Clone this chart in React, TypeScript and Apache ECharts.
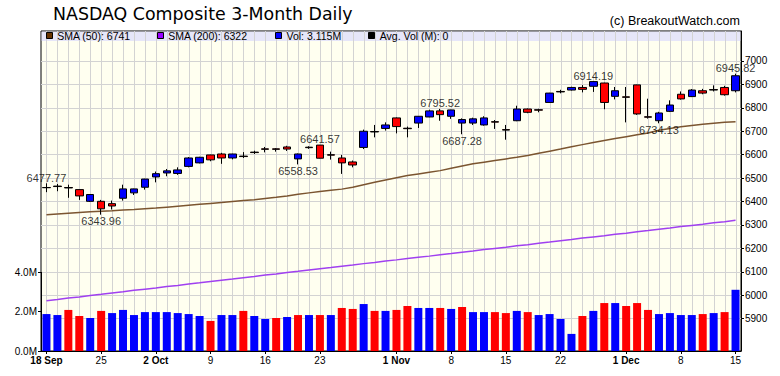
import React, { useEffect, useRef } from 'react';
import * as echarts from 'echarts';

const dates = [
  '2017-09-18', '2017-09-19', '2017-09-20', '2017-09-21', '2017-09-22', '2017-09-25', '2017-09-26', '2017-09-27', '2017-09-28', '2017-09-29',
  '2017-10-02', '2017-10-03', '2017-10-04', '2017-10-05', '2017-10-06', '2017-10-09', '2017-10-10', '2017-10-11', '2017-10-12', '2017-10-13',
  '2017-10-16', '2017-10-17', '2017-10-18', '2017-10-19', '2017-10-20', '2017-10-23', '2017-10-24', '2017-10-25', '2017-10-26', '2017-10-27',
  '2017-10-30', '2017-10-31', '2017-11-01', '2017-11-02', '2017-11-03', '2017-11-06', '2017-11-07', '2017-11-08', '2017-11-09', '2017-11-10',
  '2017-11-13', '2017-11-14', '2017-11-15', '2017-11-16', '2017-11-17', '2017-11-20', '2017-11-21', '2017-11-22', '2017-11-24', '2017-11-27',
  '2017-11-28', '2017-11-29', '2017-11-30', '2017-12-01', '2017-12-04', '2017-12-05', '2017-12-06', '2017-12-07', '2017-12-08', '2017-12-11',
  '2017-12-12', '2017-12-13', '2017-12-14', '2017-12-15',
];

const opens = [
  6460, 6466, 6460, 6451, 6401, 6401, 6391, 6414, 6437, 6461,
  6505, 6522, 6520, 6550, 6565, 6599, 6603, 6586, 6594, 6611,
  6625, 6625, 6633, 6582, 6632, 6641, 6600, 6586, 6569, 6631,
  6699, 6712, 6757, 6713, 6735, 6761, 6787, 6764, 6735, 6735,
  6727, 6741, 6707, 6745, 6795, 6792, 6823, 6870, 6876, 6887,
  6892, 6906, 6849, 6847, 6898, 6762, 6745, 6785, 6858, 6848,
  6873, 6878, 6887, 6873,
];
const closes = [
  6459, 6464, 6458, 6424, 6430, 6369, 6381, 6454, 6454, 6496,
  6519, 6531, 6535, 6586, 6589, 6578, 6586, 6603, 6592, 6609,
  6623, 6623, 6624, 6603, 6630, 6585, 6598, 6565, 6556, 6700,
  6697, 6727, 6720, 6711, 6764, 6787, 6771, 6791, 6750, 6753,
  6757, 6739, 6705, 6795, 6781, 6790, 6863, 6868, 6887, 6879,
  6912, 6823, 6873, 6845, 6774, 6760, 6778, 6812, 6838, 6876,
  6863, 6876, 6856, 6937,
];
const lows = [
  6440, 6444, 6416, 6407, 6398, 6343.96, 6366, 6404, 6428, 6451,
  6482, 6508, 6514, 6546, 6563, 6572, 6561, 6580, 6586, 6603,
  6610, 6613, 6616, 6558.53, 6625, 6584, 6579, 6518, 6546, 6624,
  6674, 6703, 6691, 6674, 6714, 6760, 6745, 6753, 6687.28, 6727,
  6724, 6710, 6664, 6743, 6777, 6781, 6822, 6862, 6874, 6866,
  6868, 6794, 6836, 6738, 6770, 6754, 6734.13, 6782, 6835, 6846,
  6858, 6870, 6852, 6866,
];
const highs = [
  6477.77, 6475, 6472, 6452, 6431, 6407, 6404, 6472, 6455, 6497,
  6528, 6539, 6546, 6590, 6591, 6600, 6608, 6604, 6611, 6617,
  6633, 6628, 6638, 6605, 6636, 6641.57, 6613, 6599, 6575, 6707,
  6727, 6738, 6759, 6720, 6765, 6792, 6795.52, 6792, 6755, 6758,
  6764, 6748, 6727, 6809, 6797, 6796, 6864, 6877, 6890, 6897,
  6914.19, 6907, 6889, 6889, 6899, 6839, 6783, 6832, 6870, 6880,
  6881, 6896, 6894, 6945.82,
];
const volumes = [
  1.88, 1.83, 2.09, 1.78, 1.68, 2.04, 1.93, 2.09, 1.83, 1.98,
  1.98, 1.98, 1.93, 1.88, 1.78, 1.53, 1.83, 1.83, 2.04, 1.78,
  1.63, 1.68, 1.73, 1.83, 1.83, 1.83, 1.83, 2.19, 2.14, 2.39,
  2.04, 2.04, 2.09, 2.29, 2.19, 2.19, 2.19, 2.14, 2.24, 1.98,
  1.98, 1.98, 1.93, 2.04, 1.98, 1.83, 1.88, 1.63, 0.87, 1.78,
  2.04, 2.44, 2.44, 2.29, 2.44, 2.09, 1.88, 1.93, 1.83, 1.83,
  1.88, 1.93, 1.98, 3.115,
];
const volumeUp = [
  1, 1, 0, 0, 1, 0, 1, 1, 1, 1,
  1, 1, 1, 1, 1, 0, 1, 1, 0, 1,
  1, 0, 1, 0, 1, 0, 1, 0, 0, 1,
  0, 1, 0, 0, 1, 1, 0, 1, 0, 1,
  1, 0, 0, 1, 0, 1, 1, 1, 1, 0,
  1, 0, 1, 0, 0, 0, 1, 1, 1, 1,
  0, 1, 0, 1,
];
const sma50 = [
  6344, 6347, 6350, 6353, 6356, 6359, 6361, 6364, 6366, 6369,
  6372, 6376, 6380, 6384, 6388, 6392, 6396, 6400, 6404, 6408,
  6413, 6418, 6424, 6431, 6437, 6443, 6448, 6453, 6461, 6472,
  6482, 6492, 6502, 6511, 6518, 6525, 6532, 6542, 6552, 6561,
  6568, 6575, 6582, 6589, 6597, 6606, 6615, 6624, 6634, 6643,
  6652, 6661, 6669, 6677, 6685, 6693, 6704, 6712, 6719, 6725,
  6730, 6734, 6738, 6741,
];
const sma200 = [
  5977, 5982, 5988, 5993, 5999, 6004, 6010, 6015, 6021, 6026,
  6031, 6037, 6042, 6048, 6053, 6059, 6064, 6069, 6075, 6080,
  6086, 6091, 6097, 6102, 6108, 6113, 6118, 6124, 6129, 6135,
  6140, 6146, 6151, 6157, 6162, 6167, 6173, 6178, 6184, 6189,
  6195, 6200, 6205, 6211, 6216, 6222, 6227, 6233, 6238, 6244,
  6249, 6254, 6260, 6265, 6271, 6276, 6282, 6287, 6293, 6298,
  6303, 6309, 6314, 6320,
];

const highLabelIdx = [0, 25, 36, 50, 63];
const lowLabelIdx = [5, 23, 38, 56];

const priceTicks = [5900, 6000, 6100, 6200, 6300, 6400, 6500, 6600, 6700, 6800, 6900, 7000];
const volumeTicks = [0, 2, 4];

const tickDates = ['2017-09-18', '2017-09-25', '2017-10-02', '2017-10-09', '2017-10-16', '2017-10-23', '2017-11-01', '2017-11-08', '2017-11-15', '2017-11-22', '2017-12-01', '2017-12-08', '2017-12-15'];
const tickTexts = ['18 Sep', '25', '2 Oct', '9', '16', '23', '1 Nov', '8', '15', '22', '1 Dec', '8', '15'];
const tickBold = [true, false, true, false, false, false, true, false, false, false, true, false, false];

const legendItems = [
  { name: 'SMA (50): 6741', color: '#663300' },
  { name: 'SMA (200): 6322', color: '#9900FF' },
  { name: 'Vol: 3.115M', color: '#0000FF' },
  { name: 'Avg. Vol (M): 0', color: '#000000' },
];
const legendX = [45.7, 156.7, 275, 368.3];

const FONT = '"Liberation Sans", Arial, sans-serif';

export default function App() {
  const ref = useRef<HTMLDivElement>(null);
  useEffect(() => {
    document.body.style.margin = '0';
    const chart = echarts.init(ref.current!, null, { renderer: 'svg' });
    const isTick = (_i: number, v: string) => tickDates.indexOf(v) >= 0;

    const graphics: any[] = [
      {
        type: 'rect', z: 0, silent: true,
        shape: { x: 41.5, y: 31.5, width: 699, height: 9.5 },
        style: { fill: 'rgba(213,213,255,0.6)' },
      },
      {
        type: 'text', z: 10,
        style: { x: 53, y: 14, text: 'NASDAQ Composite 3-Month Daily', font: '17.4px "DejaVu Sans"', fill: '#000', verticalAlign: 'middle', align: 'left' },
      },
      {
        type: 'text', z: 10,
        style: { x: 740, y: 20.5, text: '(c) BreakoutWatch.com', font: '12.5px ' + FONT, fill: '#000', verticalAlign: 'middle', align: 'right' },
      },
    ];
    legendItems.forEach((it, k) => {
      graphics.push({
        type: 'rect', z: 10,
        shape: { x: Math.round(legendX[k]) + 0.5, y: 32.5, width: 6, height: 6 },
        style: { fill: it.color, stroke: '#000', lineWidth: 1 },
      });
      graphics.push({
        type: 'text', z: 10,
        style: { x: legendX[k] + 11.5, y: 36, text: it.name, font: '10.5px ' + FONT, fill: '#000', verticalAlign: 'middle', align: 'left' },
      });
    });

    const option: any = {
      animation: false,
      backgroundColor: '#ffffff',
      textStyle: { fontFamily: FONT },
      graphic: graphics,
      grid: [
        { left: 41, top: 31, width: 700, height: 320, show: true, backgroundColor: '#FFFFF0', borderColor: '#000', borderWidth: 1 },
        { left: 41, top: 272.4, width: 700, height: 78.6, show: false },
      ],
      xAxis: [
        {
          type: 'category', gridIndex: 0, data: dates, boundaryGap: true,
          axisLine: { show: true, lineStyle: { color: '#000', width: 1 } },
          axisTick: { show: true, interval: isTick, alignWithLabel: true, length: 3, lineStyle: { color: '#000' } },
          axisLabel: {
            interval: isTick, margin: 4, fontSize: 10, color: '#000', fontFamily: FONT,
            formatter: (v: string) => {
              const k = tickDates.indexOf(v);
              if (k < 0) return '';
              return tickBold[k] ? '{b|' + tickTexts[k] + '}' : tickTexts[k];
            },
            rich: { b: { fontWeight: 'bold', fontSize: 10, color: '#000', fontFamily: FONT } },
          },
          splitLine: { show: false },
        },
        { type: 'category', gridIndex: 1, data: dates, boundaryGap: true, show: false },
      ],
      yAxis: [
        {
          type: 'value', gridIndex: 0, position: 'right', min: 5762, max: 7128,
          axisLine: { show: true, lineStyle: { color: '#000' } },
          axisTick: { show: true, length: 3, customValues: priceTicks, lineStyle: { color: '#000' } },
          axisLabel: { customValues: priceTicks, formatter: (v: number) => String(v), fontSize: 10, margin: 4, color: '#000', fontFamily: FONT },
          splitLine: { show: true, lineStyle: { color: '#D3D3D3', width: 1 } },
        },
        {
          type: 'value', gridIndex: 1, position: 'left', min: 0, max: 4, interval: 2,
          axisLine: { show: true, lineStyle: { color: '#000' } },
          axisTick: { show: true, length: 3, customValues: volumeTicks, lineStyle: { color: '#000' } },
          axisLabel: { customValues: volumeTicks, formatter: (v: number) => v.toFixed(1) + 'M', fontSize: 10, margin: 4, color: '#000', fontFamily: FONT },
          splitLine: { show: false },
        },
      ],
      series: [
        {
          type: 'custom', xAxisIndex: 0, yAxisIndex: 0, z: 1, silent: true,
          data: dates.map((_d, i) => [i, 6500]),
          encode: { x: 0, y: 1 },
          renderItem: (params: any, api: any) => {
            const x = Math.round(api.coord([api.value(0), 6500])[0]) + 0.5;
            const cs = params.coordSys;
            return {
              type: 'line',
              shape: { x1: x, y1: cs.y, x2: x, y2: cs.y + cs.height },
              style: { stroke: '#D3D3D3', lineWidth: 1 },
            };
          },
        },
        {
          type: 'bar', xAxisIndex: 1, yAxisIndex: 1, barWidth: 8, z: 2, silent: true,
          data: volumes.map((v, i) => ({ value: v, itemStyle: { color: volumeUp[i] ? '#0000FF' : '#FF0000' } })),
        },
        {
          type: 'line', xAxisIndex: 0, yAxisIndex: 0, data: sma200, showSymbol: false, z: 2, silent: true,
          lineStyle: { color: '#A040F0', width: 1.5 },
        },
        {
          type: 'line', xAxisIndex: 0, yAxisIndex: 0, data: sma50, showSymbol: false, z: 2, silent: true,
          lineStyle: { color: '#7B5530', width: 1.5 },
        },
        {
          type: 'candlestick', xAxisIndex: 0, yAxisIndex: 0, barWidth: 8, z: 3, silent: true,
          data: dates.map((_d, i) => [opens[i], closes[i], lows[i], highs[i]]),
          itemStyle: { color: '#0000FF', color0: '#FF0000', borderColor: '#000', borderColor0: '#000', borderWidth: 1 },
        },
        {
          type: 'scatter', xAxisIndex: 0, yAxisIndex: 0, symbolSize: 0, z: 4, silent: true,
          data: highLabelIdx.map((i) => [i, highs[i]]),
          label: { show: true, position: 'top', distance: 0, fontSize: 11, color: '#000', fontFamily: FONT, formatter: (p: any) => p.value[1].toFixed(2) },
        },
        {
          type: 'scatter', xAxisIndex: 0, yAxisIndex: 0, symbolSize: 0, z: 4, silent: true,
          data: lowLabelIdx.map((i) => [i, lows[i]]),
          label: { show: true, position: 'bottom', distance: 1, fontSize: 11, color: '#000', fontFamily: FONT, formatter: (p: any) => p.value[1].toFixed(2) },
        },
      ],
    };
    chart.setOption(option);
    return () => chart.dispose();
  }, []);
  return <div ref={ref} style={{ width: 780, height: 376 }} />;
}
